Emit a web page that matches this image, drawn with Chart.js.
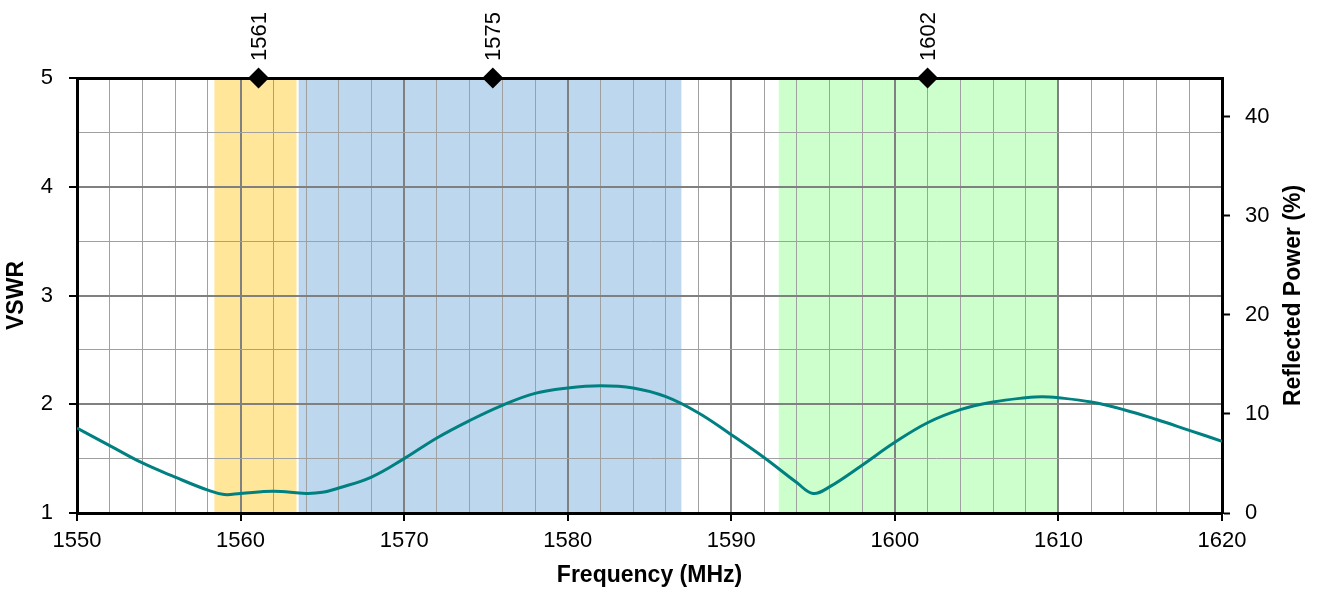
<!DOCTYPE html>
<html>
<head>
<meta charset="utf-8">
<script src="https://cdn.jsdelivr.net/npm/chart.js@4"></script>
<style>
  html, body { margin: 0; padding: 0; background: #fff; }
  #wrap { width: 1321px; height: 589px; }
</style>
</head>
<body>
<div id="wrap"><canvas id="vswr"></canvas></div>
<script>
// measured VSWR curve
const freqs = [1550, 1552, 1554, 1556, 1558, 1559, 1560, 1562, 1564, 1565, 1566, 1568, 1570, 1572, 1574, 1576, 1578, 1580,
  1582, 1584, 1586, 1588, 1590, 1592, 1594, 1595, 1596, 1598, 1600, 1602, 1604, 1606, 1608, 1609, 1610, 1612, 1614, 1616, 1618, 1620];
const vswr = [1.78, 1.62, 1.46, 1.33, 1.21, 1.17, 1.18, 1.20, 1.18, 1.19, 1.23, 1.33, 1.50, 1.69, 1.85, 1.99, 2.10, 2.15,
  2.17, 2.15, 2.07, 1.92, 1.72, 1.51, 1.28, 1.18, 1.24, 1.44, 1.65, 1.83, 1.95, 2.02, 2.06, 2.07, 2.06, 2.02, 1.95, 1.86, 1.76, 1.66];

// centre frequencies marked on top
const markerFreqs = [1561.098, 1575.42, 1602];
const markerLabels = ['1561', '1575', '1602'];

// frequency bands (start, end)
const bandStart = [1558.4, 1563.55, 1592.9];
const bandEnd = [1563.42, 1586.95, 1610];
const bandColors = ['#FFE699', '#BDD7EE', '#CCFFCC'];

const powerTicks = [0, 10, 20, 30, 40];
const powerMax = 43.9;

const FONT = "'Liberation Sans', Arial, sans-serif";

const bandsPlugin = {
  id: 'bands',
  beforeDraw(chart) {
    const c = chart.ctx, x = chart.scales.x, a = chart.chartArea;
    c.save();
    bandStart.forEach((s, i) => {
      const x0 = x.getPixelForValue(s), x1 = x.getPixelForValue(bandEnd[i]);
      c.fillStyle = bandColors[i];
      c.fillRect(x0, a.top, x1 - x0, a.bottom - a.top);
    });
    c.restore();
  }
};

// right title reads bottom-to-top, and the marker labels on top
const extraText = {
  id: 'extraText',
  afterDraw(chart) {
    const c = chart.ctx, a = chart.chartArea, x = chart.scales.x;
    c.save();
    c.fillStyle = '#000';
    c.translate(1294, (a.top + a.bottom) / 2);
    c.rotate(-Math.PI / 2);
    c.font = 'bold 23px ' + FONT;
    c.textAlign = 'center';
    c.textBaseline = 'middle';
    c.fillText('Reflected Power (%)', 0, 0);
    c.restore();

    c.save();
    c.fillStyle = '#000';
    c.font = '22px ' + FONT;
    c.textAlign = 'left';
    c.textBaseline = 'middle';
    markerFreqs.forEach((f, i) => {
      c.save();
      c.translate(x.getPixelForValue(f) + 1, a.top - 17);
      c.rotate(-Math.PI / 2);
      c.fillText(markerLabels[i], 0, 0);
      c.restore();
    });
    c.restore();
  }
};

const isInt = v => Math.abs(v - Math.round(v)) < 1e-6;
const isTen = v => Math.abs(v / 10 - Math.round(v / 10)) < 1e-6;

new Chart(document.getElementById('vswr'), {
  type: 'scatter',
  data: {
    datasets: [{
      data: freqs.map((f, i) => ({ x: f, y: vswr[i] })),
      showLine: true,
      borderColor: '#008080',
      borderWidth: 3,
      pointRadius: 0,
      tension: 0.4
    }, {
      data: markerFreqs.map(f => ({ x: f, y: 5 })),
      pointStyle: 'rectRot',
      pointRadius: 10.5,
      backgroundColor: '#000',
      borderColor: '#000',
      borderWidth: 0,
      clip: false
    }]
  },
  options: {
    responsive: true,
    maintainAspectRatio: false,
    animation: false,
    events: [],
    layout: { padding: 0 },
    plugins: { legend: { display: false }, tooltip: { enabled: false } },
    scales: {
      x: {
        type: 'linear', position: 'bottom', min: 1550, max: 1620,
        afterBuildTicks: s => { s.ticks = []; for (let v = 1550; v <= 1620; v += 2) s.ticks.push({ value: v }); },
        afterFit: s => { s.height = 76; },
        ticks: {
          autoSkip: false, maxRotation: 0, color: '#000', padding: 7,
          font: { family: FONT, size: 22 },
          callback: v => isTen(v) ? String(v) : ''
        },
        grid: {
          color: c => isTen(c.tick.value) ? '#808080' : '#a0a0a0',
          lineWidth: c => isTen(c.tick.value) ? 2 : 1,
          tickColor: c => isTen(c.tick.value) ? '#000' : 'rgba(0,0,0,0)',
          tickWidth: 2, tickLength: 8
        },
        border: { color: '#000', width: 3 },
        title: { display: true, text: 'Frequency (MHz)', color: '#000', font: { family: FONT, size: 23, weight: 'bold' }, padding: { top: 4, bottom: 0 } }
      },
      x2: {
        type: 'linear', position: 'top', min: 1550, max: 1620,
        afterFit: s => { s.height = 78; },
        ticks: { display: false },
        grid: { drawOnChartArea: false, drawTicks: false },
        border: { color: '#000', width: 3 }
      },
      y: {
        type: 'linear', position: 'left', min: 1, max: 5,
        afterBuildTicks: s => { s.ticks = []; for (let v = 1; v <= 5.001; v += 0.5) s.ticks.push({ value: v }); },
        afterFit: s => { s.width = 77; },
        ticks: {
          color: '#000', padding: 16,
          font: { family: FONT, size: 22 },
          callback: v => isInt(v) ? String(v) : ''
        },
        grid: {
          color: c => isInt(c.tick.value) ? '#808080' : '#a0a0a0',
          lineWidth: c => isInt(c.tick.value) ? 2 : 1,
          tickColor: c => isInt(c.tick.value) ? '#000' : 'rgba(0,0,0,0)',
          tickWidth: 2, tickLength: 8
        },
        border: { color: '#000', width: 3 },
        title: { display: true, text: 'VSWR', color: '#000', font: { family: FONT, size: 23, weight: 'bold' }, padding: { top: 3, bottom: 3 } }
      },
      y2: {
        type: 'linear', position: 'right', min: 0, max: powerMax,
        afterBuildTicks: s => { s.ticks = powerTicks.map(v => ({ value: v })); },
        afterFit: s => { s.width = 99; },
        ticks: { color: '#000', padding: 15, font: { family: FONT, size: 22 } },
        grid: { drawOnChartArea: false, tickColor: '#000', tickWidth: 2, tickLength: 8 },
        border: { color: '#000', width: 3 }
      }
    }
  },
  plugins: [bandsPlugin, extraText]
});
</script>
</body>
</html>
